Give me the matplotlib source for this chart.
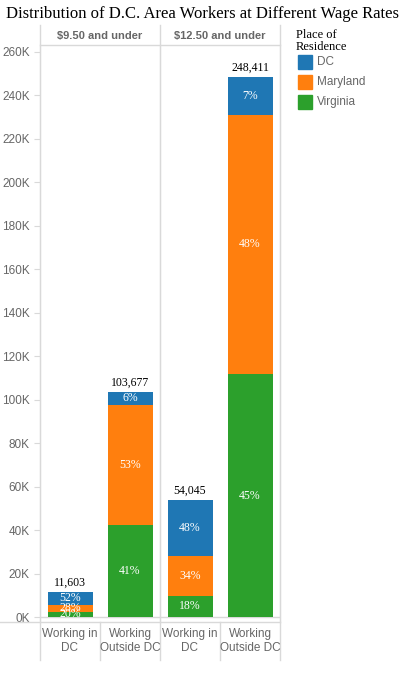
import matplotlib
matplotlib.use("Agg")
import matplotlib.pyplot as plt
import numpy as np

# ---- data ----
PANELS = ["$9.50 and under", "$12.50 and under"]
CATEGORIES = ["Working in\nDC", "Working\nOutside DC"]
TOTALS = [[11603, 103677], [54045, 248411]]
PCT_DC = [[52, 6], [48, 7]]
PCT_MD = [[28, 53], [34, 48]]
PCT_VA = [[20, 41], [18, 45]]
SERIES = ["DC", "Maryland", "Virginia"]
COLORS = {"DC": "#1f77b4", "Maryland": "#ff7f0e", "Virginia": "#2ca02c"}

GREY = "#666666"
LINE = "#d9d9d9"
SERIF = "Liberation Serif"
SANS = "Liberation Sans"

W, H = 417, 690
fig = plt.figure(figsize=(W / 100, H / 100), dpi=100)


def fx(px):
    return px / W


def fy(py):
    return 1 - py / H


ax_bottom, ax_top = 622, 45
for p in range(2):
    left = 40 + p * 120
    ax = fig.add_axes([fx(left), fy(ax_bottom), fx(120), (ax_bottom - ax_top) / H])
    xs = np.arange(2)
    bottom = np.zeros(2)
    for name, pct in (("Virginia", PCT_VA[p]), ("Maryland", PCT_MD[p]), ("DC", PCT_DC[p])):
        vals = np.array(TOTALS[p]) * np.array(pct) / 100
        ax.bar(xs, vals, 0.75, bottom=bottom, color=COLORS[name], zorder=3)
        for i in range(2):
            ax.text(xs[i], bottom[i] + vals[i] / 2, f"{pct[i]}%", ha="center", va="center",
                    color="white", fontsize=8.5, family=SERIF, zorder=4)
        bottom += vals
    for i in range(2):
        ax.text(xs[i], TOTALS[p][i] + 1500, f"{TOTALS[p][i]:,}", ha="center", va="bottom",
                color="black", fontsize=8.5, family=SERIF)
    ax.set_xlim(-0.5, 1.5)
    ax.set_ylim(-2300, 263200)
    ax.set_xticks([])
    for s in ax.spines.values():
        s.set_visible(False)
    ax.spines["left"].set_visible(True)
    ax.spines["left"].set_color(LINE)
    if p == 1:
        ax.spines["right"].set_visible(True)
        ax.spines["right"].set_color(LINE)
    ax.axhline(0, color=LINE, lw=1, zorder=2)
    if p == 0:
        ticks = np.arange(0, 260001, 20000)
        ax.set_yticks(ticks)
        ax.set_yticklabels(["0K" if t == 0 else f"{t // 1000}K" for t in ticks],
                           fontsize=8.5, color=GREY, family=SANS)
        ax.tick_params(axis="y", length=4, color=LINE)
    else:
        ax.set_yticks([])
    # header
    fig.text(fx(left + 60), fy(36), PANELS[p], ha="center", va="center",
             fontsize=8, fontweight="bold", color=GREY, family=SANS)
    # category labels
    for i, cat in enumerate(CATEGORIES):
        fig.text(fx(left + 30 + 60 * i), fy(641), cat, ha="center", va="center",
                 fontsize=8.5, color=GREY, family=SANS, linespacing=1.2)

# frame lines
for x in (40, 160, 280):
    fig.add_artist(plt.Line2D([fx(x), fx(x)], [fy(660), fy(25)], color=LINE, lw=1))
fig.add_artist(plt.Line2D([fx(40), fx(280)], [fy(45), fy(45)], color=LINE, lw=1))
fig.add_artist(plt.Line2D([fx(0), fx(280)], [fy(622), fy(622)], color=LINE, lw=1))
for x in (100, 220):
    fig.add_artist(plt.Line2D([fx(x), fx(x)], [fy(660), fy(622)], color=LINE, lw=1))

fig.text(fx(6), fy(14), "Distribution of D.C. Area Workers at Different Wage Rates",
         ha="left", va="center", fontsize=12, family=SERIF)

# legend
fig.text(fx(296), fy(41), "Place of\nResidence", ha="left", va="center",
         fontsize=9, family=SERIF, linespacing=1.1)
for k, name in enumerate(SERIES):
    y = 62 + 20 * k
    fig.add_artist(plt.Rectangle((fx(298), fy(y + 7)), fx(14), 14 / H, color=COLORS[name]))
    fig.text(fx(317), fy(y), name, ha="left", va="center", fontsize=8.5,
             color=GREY, family=SANS)

fig.savefig("out.png", dpi=100)
